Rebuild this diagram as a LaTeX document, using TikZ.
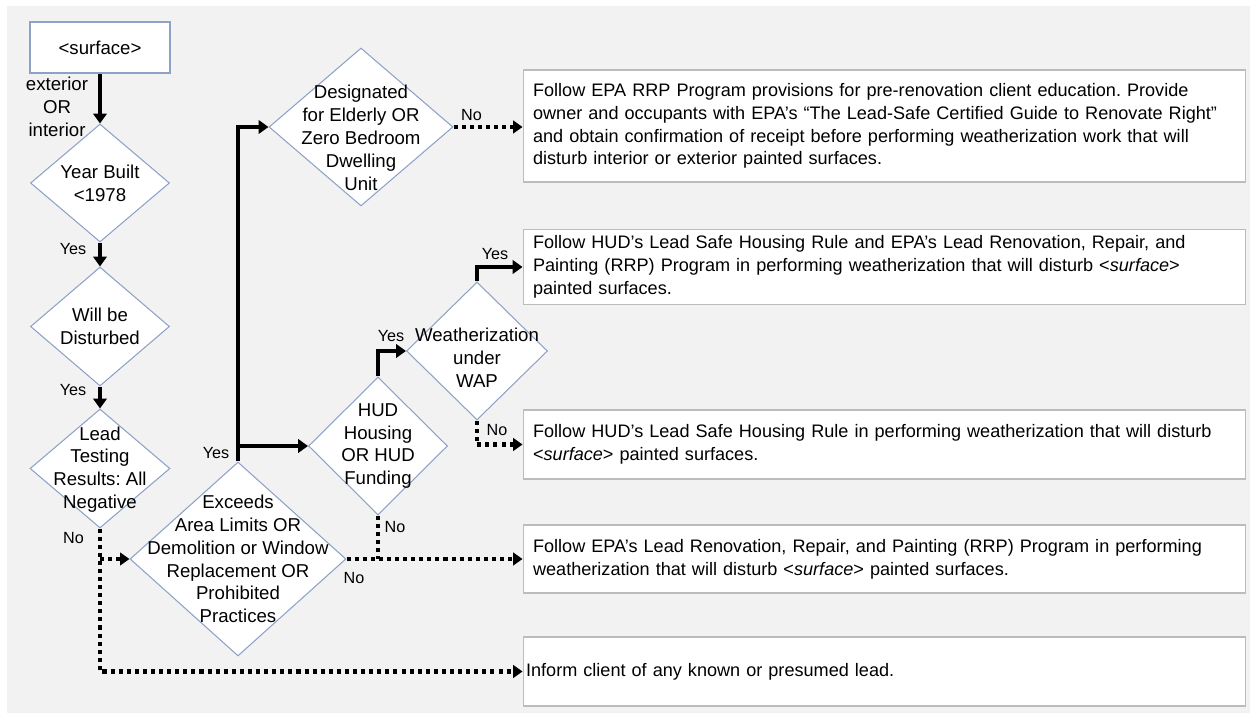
\documentclass[tikz,border=0pt]{standalone}
\usepackage{fontspec}
\setmainfont{Liberation Sans}
\usepackage{tikz}
\usetikzlibrary{positioning,shapes.geometric,arrows.meta}
\definecolor{bggray}{HTML}{F2F2F2}
\definecolor{edgeblue}{HTML}{8EA2C8}
\definecolor{boxgray}{HTML}{BCBCBC}
\frenchspacing

\begin{document}
\begin{tikzpicture}[x=0.02cm,y=-0.02cm,
    decision/.style={diamond,draw=edgeblue,fill=white,line width=0.6pt,inner sep=0pt},
    dtext/.style={align=center,font=\fontsize{10.6}{13}\selectfont},
    result/.style={rectangle,draw=boxgray,fill=white,line width=0.6pt,minimum width=14.46cm,
        text width=14.06cm,inner xsep=0.2cm,align=left,font=\fontsize{10.3}{13}\selectfont},
    lbl/.style={font=\fontsize{9.2}{10}\selectfont},
    solidarrow/.style={line width=2.5pt,-{Triangle[length=5.6pt,width=7.6pt]}},
    dotline/.style={line width=2.3pt,dash pattern=on 2.3pt off 2.3pt},
    dotarrow/.style={dotline,-{Triangle[length=5.4pt,width=7.2pt]}}]
    \fill[bggray] (7,6) rectangle (1250,713);
    \useasboundingbox (0,0) rectangle (1250,715);

    % left column
    \node[rectangle,draw=edgeblue,fill=white,line width=0.6pt,minimum width=2.8cm,minimum height=1.02cm,dtext] (surf) at (100,47.5) {<surface>};
    \node[dtext] (extint) at (57,107) {exterior\\OR\\interior};
    \node[decision,minimum width=2.78cm,minimum height=2.36cm] (yb) at (100,183) {};
    \node[dtext] (ybt) at (yb) {Year Built\\<1978};
    \node[decision,minimum width=2.78cm,minimum height=2.38cm] (wd) at (100,326.5) {};
    \node[dtext] (wdt) at (wd) {Will be\\Disturbed};
    \node[decision,minimum width=2.8cm,minimum height=2.38cm] (lt) at (100,468.5) {};
    \node[dtext] (ltt) at (100,469.5) {Lead\\Testing\\Results: All\\Negative};

    % middle decisions
    \node[decision,minimum width=4.32cm,minimum height=3.88cm] (ex) at (238,559) {};
    \node[dtext] (ext) at (ex) {Exceeds\\Area Limits OR\\Demolition or Window\\Replacement OR\\Prohibited\\Practices};
    \node[decision,minimum width=3.68cm,minimum height=3.16cm] (dz) at (361,127) {};
    \node[dtext] (dzt) at (361,138) {Designated\\for Elderly OR\\Zero Bedroom\\Dwelling\\Unit};
    \node[decision,minimum width=2.78cm,minimum height=2.76cm] (hud) at (378,446) {};
    \node[dtext] (hudt) at (hud) {HUD\\Housing\\OR HUD\\Funding};
    \node[decision,minimum width=2.82cm,minimum height=2.76cm] (wap) at (477,351) {};
    \node[dtext] (wapt) at (477,358) {Weatherization\\under\\WAP};

    % outcomes
    \node[result,minimum height=2.24cm] (fa) at (884.5,126) {Follow EPA RRP Program provisions for pre-renovation client education. Provide\\owner and occupants with EPA’s “The Lead-Safe Certified Guide to Renovate Right”\\and obtain confirmation of receipt before performing weatherization work that will\\disturb interior or exterior painted surfaces.};
    \node[result,minimum height=1.36cm] (fb) at (884.5,267) {Follow HUD’s Lead Safe Housing Rule and EPA’s Lead Renovation, Repair, and\\Painting (RRP) Program in performing weatherization that will disturb <\textit{surface}>\\painted surfaces.};
    \node[result,minimum height=1.38cm] (fc) at (884.5,444.5) {Follow HUD’s Lead Safe Housing Rule in performing weatherization that will disturb\\<\textit{surface}> painted surfaces.};
    \node[result,minimum height=1.36cm] (fd) at (884.5,559) {Follow EPA’s Lead Renovation, Repair, and Painting (RRP) Program in performing\\weatherization that will disturb <\textit{surface}> painted surfaces.};
    \node[result,minimum height=1.38cm,inner xsep=0.06cm,text width=14.34cm] (fe) at (884.5,671.5) {Inform client of any known or presumed lead.};

    % labels
    \node[lbl] (yes1) at (73,249) {Yes};
    \node[lbl] (yes2) at (73,390) {Yes};
    \node[lbl] (no1) at (73.5,538) {No};
    \node[lbl] (yes3) at (216,453) {Yes};
    \node[lbl] (no2) at (471.5,115) {No};
    \node[lbl] (yes4) at (391,336) {Yes};
    \node[lbl] (yes5) at (495,254) {Yes};
    \node[lbl] (no3) at (497,430) {No};
    \node[lbl] (no4) at (395,527) {No};
    \node[lbl] (no5) at (354,578) {No};

    % connectors
    \draw[solidarrow] (surf.south) -- (yb.north);
    \draw[solidarrow] (yb.south) -- (wd.north);
    \draw[solidarrow] (wd.south) -- (lt.north);
    \draw[dotarrow] (lt.south) |- (fe.west);
    \draw[dotarrow] (lt.south |- ex.west) -- (ex.west);
    \draw[solidarrow] (ex.north) |- (dz.west);
    \draw[solidarrow] (ex.north |- hud.west) -- (hud.west);
    \draw[solidarrow] (hud.north) |- (wap.west);
    \draw[solidarrow] (wap.north) |- (fb.west);
    \draw[dotarrow] (wap.south) |- (fc.west);
    \draw[dotarrow] (dz.east) -- (dz.east -| fa.west);
    \draw[dotarrow] (ex.east) -- (ex.east -| fd.west);
    \draw[dotline] (hud.south) -- (hud.south |- ex.east);
\end{tikzpicture}
\end{document}
